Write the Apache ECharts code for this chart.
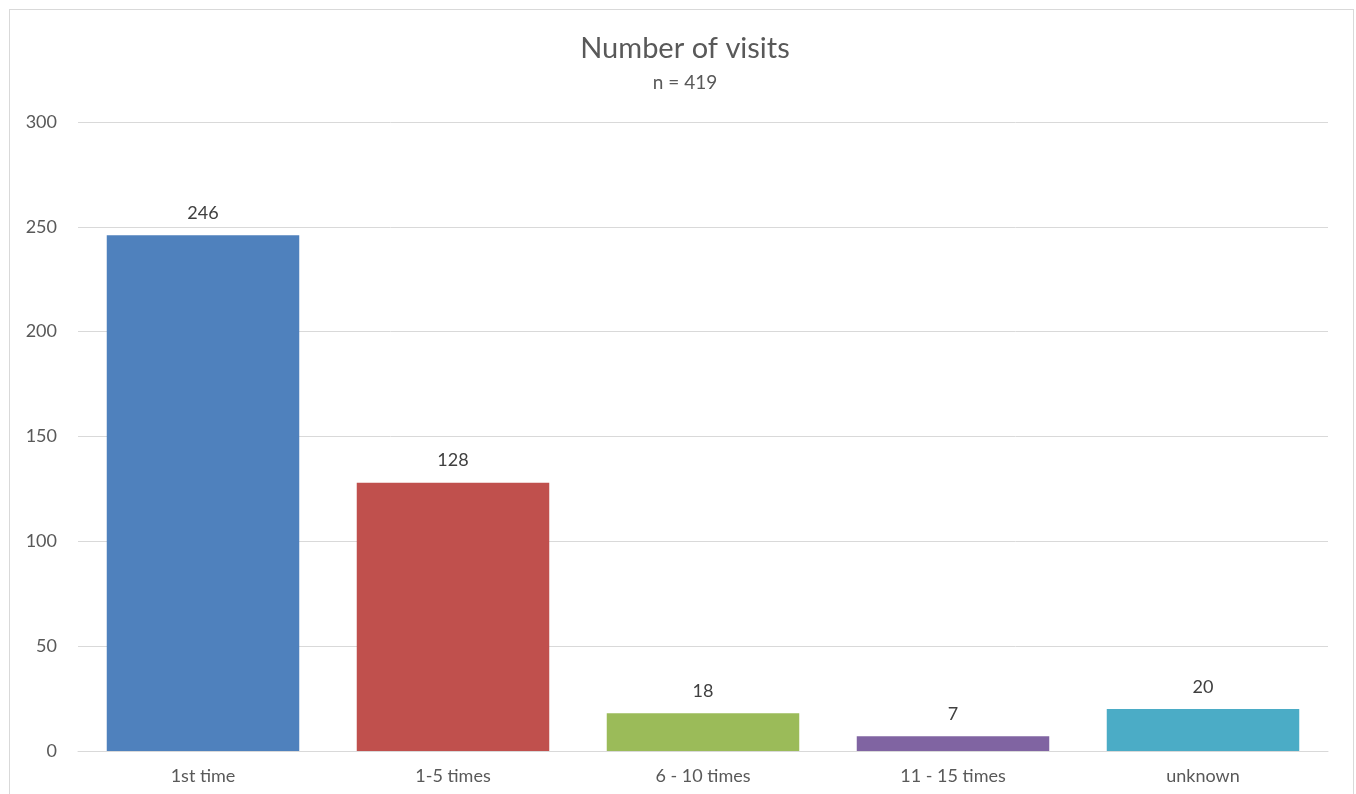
<!DOCTYPE html>
<html>
<head>
<meta charset="utf-8">
<script src="https://cdn.jsdelivr.net/npm/echarts@6/dist/echarts.min.js"></script>
<style>
  html, body { margin: 0; padding: 0; background: #fff; }
  #frame { position: absolute; left: 9px; top: 9px; width: 1345px; height: 800px;
           border: 1px solid #d9d9d9; box-sizing: border-box; }
  #chart { position: absolute; left: 0; top: 0; width: 1356px; height: 794px; }
</style>
</head>
<body>
<div id="frame"></div>
<div id="chart"></div>
<script>
// Visit-frequency categories and respondent counts
const categories = ['1st time', '1-5 times', '6 - 10 times', '11 - 15 times', 'unknown'];
const counts = [246, 128, 18, 7, 20];
const barColors = ['#4f81bd', '#c0504d', '#9bbb59', '#8064a2', '#4bacc6'];
const yTicks = [0, 50, 100, 150, 200, 250, 300];

const font = 'Lato, "Open Sans", sans-serif';
const textColor = '#595959';

const chart = echarts.init(document.getElementById('chart'), null, { renderer: 'canvas' });
chart.setOption({
  animation: false,
  title: {
    text: 'Number of visits',
    subtext: 'n = 419',
    left: 680,
    textAlign: 'center',
    top: 29,
    itemGap: 10,
    textStyle: { fontFamily: font, fontSize: 29, fontWeight: 'normal', color: textColor },
    subtextStyle: { fontFamily: font, fontSize: 19, color: textColor }
  },
  grid: { left: 78, right: 28, top: 122, bottom: 43, containLabel: false },
  xAxis: {
    type: 'category',
    data: categories,
    axisTick: { show: false },
    axisLine: { lineStyle: { color: '#d9d9d9', width: 1 } },
    axisLabel: { fontFamily: font, fontSize: 18, color: textColor, margin: 16 }
  },
  yAxis: {
    type: 'value',
    min: yTicks[0],
    max: yTicks[yTicks.length - 1],
    interval: 50,
    axisLine: { show: false },
    axisTick: { show: false },
    splitLine: { lineStyle: { color: '#d9d9d9', width: 1 } },
    axisLabel: { fontFamily: font, fontSize: 18, color: textColor, margin: 21 }
  },
  series: [{
    type: 'bar',
    data: counts.map((v, i) => ({ value: v, itemStyle: { color: barColors[i] } })),
    barWidth: '77%',
    label: {
      show: true,
      position: 'top',
      distance: 13,
      fontFamily: font,
      fontSize: 18,
      color: '#404040'
    }
  }]
});
</script>
</body>
</html>
